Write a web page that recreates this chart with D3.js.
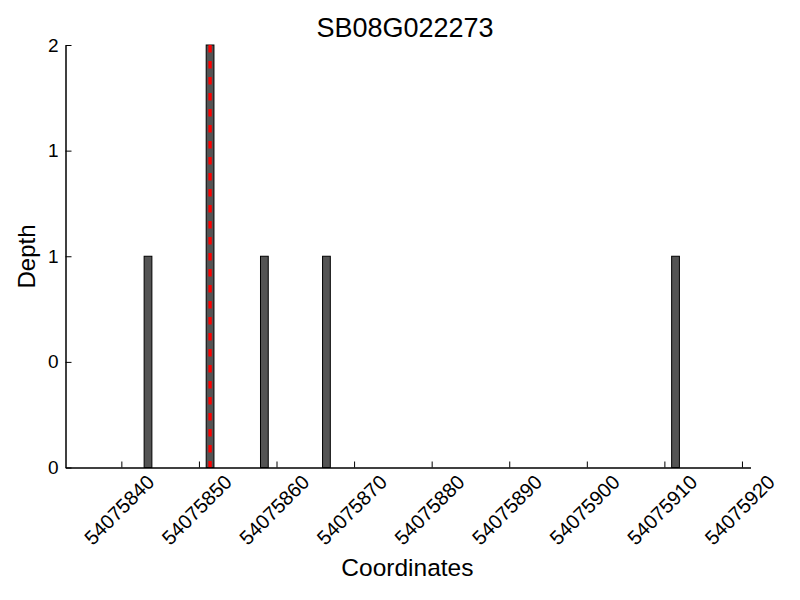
<!DOCTYPE html>
<html>
<head>
<meta charset="utf-8">
<script src="https://cdn.jsdelivr.net/npm/d3@7"></script>
<style>
  html, body { margin: 0; padding: 0; background: #fff; }
  svg { display: block; font-family: "Liberation Sans", Arial, Helvetica, sans-serif; }
</style>
</head>
<body>
<svg id="chart" width="800" height="600"></svg>
<script>
// ---- data ----
const title = "SB08G022273";
const positions = [54075843, 54075851, 54075858, 54075866, 54075911];
const depths = [1, 2, 1, 1, 1];
const highlightPos = 54075851;
const xTicks = [54075840, 54075850, 54075860, 54075870, 54075880, 54075890, 54075900, 54075910, 54075920];
const yTicks = [0, 0.5, 1, 1.5, 2];
const yTickLabels = ["0", "0", "1", "1", "2"];
const xLabel = "Coordinates";
const yLabel = "Depth";

(function () {
// ---- layout ----
const svg = d3.select("#chart");
const plotLeft = 65.5, plotRight = 750.5, plotTop = 45, plotBottom = 467.5;

const x = d3.scaleLinear().domain([54075832.8, 54075921.1]).range([plotLeft, plotRight]);
const y = d3.scaleLinear().domain([0, 2]).range([plotBottom, plotTop]);

// bars
svg.append("g").selectAll("rect").data(positions).join("rect")
  .attr("x", d => x(d) - 0.5)
  .attr("width", d => x(d + 1) - x(d))
  .attr("y", (d, i) => y(depths[i]))
  .attr("height", (d, i) => plotBottom - y(depths[i]))
  .attr("fill", "#545454")
  .attr("stroke", "#000")
  .attr("stroke-width", 1);

// highlight dashed line
svg.append("line")
  .attr("x1", x(highlightPos + 0.5) - 0.5).attr("x2", x(highlightPos + 0.5) - 0.5)
  .attr("y1", y(depths[positions.indexOf(highlightPos)])).attr("y2", plotBottom)
  .attr("stroke", "#ff0000")
  .attr("stroke-width", 3.3)
  .attr("stroke-dasharray", "7.5,8.5");

// x axis
const xAxis = d3.axisBottom(x).tickValues(xTicks).tickFormat(d3.format("d"))
  .tickSizeInner(-6).tickSizeOuter(0).tickPadding(0);
const gx = svg.append("g").attr("transform", `translate(0,${plotBottom})`).call(xAxis);
gx.select(".domain").attr("stroke", "#000").attr("stroke-width", 1.5);
gx.selectAll(".tick line").attr("stroke", "#000").attr("stroke-width", 1);
gx.selectAll(".tick text")
  .attr("font-size", 20)
  .attr("fill", "#000")
  .attr("text-anchor", "middle")
  .attr("dy", null)
  .attr("y", null)
  .attr("transform", "translate(-1.5,43.5) rotate(-45)")
  .attr("dominant-baseline", "middle");

// y axis
const yAxis = d3.axisLeft(y).tickValues(yTicks).tickFormat((d, i) => yTickLabels[i])
  .tickSizeInner(-6).tickSizeOuter(0).tickPadding(7);
const gy = svg.append("g").attr("transform", `translate(${plotLeft},0)`).call(yAxis);
gy.select(".domain").attr("stroke", "#000").attr("stroke-width", 1.5);
gy.selectAll(".tick line").attr("stroke", "#000").attr("stroke-width", 1);
gy.selectAll(".tick text").attr("font-size", 19).attr("fill", "#000");

// title
svg.append("text").attr("x", 405).attr("y", 36.5).attr("text-anchor", "middle")
  .attr("font-size", 27).attr("fill", "#000").text(title);

// axis labels
svg.append("text").attr("x", 407.4).attr("y", 575.5).attr("text-anchor", "middle")
  .attr("font-size", 24.5).attr("fill", "#000").text(xLabel);
svg.append("text").attr("transform", "translate(35,256.5) rotate(-90)").attr("text-anchor", "middle")
  .attr("font-size", 24).attr("fill", "#000").text(yLabel);
})();
</script>
</body>
</html>
